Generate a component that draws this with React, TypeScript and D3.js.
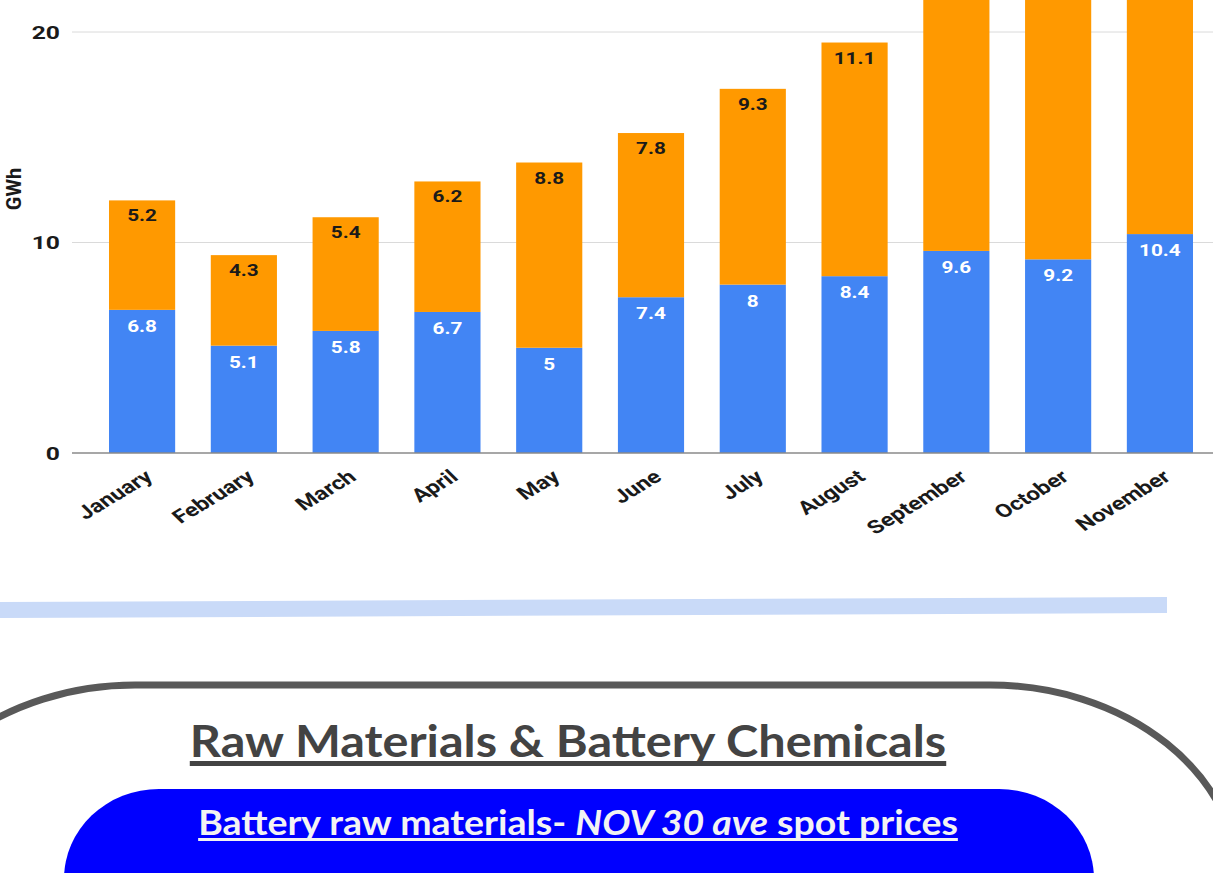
import React, { useEffect, useRef, useState } from "react";
import * as d3 from "d3";

const months = ["January", "February", "March", "April", "May", "June", "July", "August", "September", "October", "November"];
const blueValues = [6.8, 5.1, 5.8, 6.7, 5, 7.4, 8, 8.4, 9.6, 9.2, 10.4];
const orangeValues = [5.2, 4.3, 5.4, 6.2, 8.8, 7.8, 9.3, 11.1, 13.2, 14.5, 15.1];
const yTicks = [0, 10, 20];
const yAxisTitle = "GWh";
const sectionTitle = "Raw Materials & Battery Chemicals";
const subTitleParts = [
  { text: "Battery raw materials- ", italic: false },
  { text: "NOV 30 ave", italic: true },
  { text: " spot prices", italic: false },
];

const W = 1213;
const H = 873;

function Underlined({ x, y, size, color, children, thickness, offset, family, sx }: any) {
  const ref = useRef<SVGTextElement>(null);
  const [box, setBox] = useState<{ x: number; w: number } | null>(null);
  useEffect(() => {
    if (ref.current) {
      const b = ref.current.getBBox();
      setBox({ x: b.x, w: b.width });
    }
  }, []);
  return (
    <g transform={`translate(${x},${y}) scale(${sx},1)`}>
      <text ref={ref} x={0} y={0} textAnchor="middle" fontFamily={family} fontWeight="bold" fontSize={size} fill={color}>
        {children}
      </text>
      {box && <rect x={box.x} y={offset} width={box.w} height={thickness} fill={color} />}
    </g>
  );
}

export default function App() {
  const x = d3.scaleBand<string>().domain(months).range([109, 1193]).paddingInner(0.35).paddingOuter(0);
  const y = d3.scaleLinear().domain([0, 20]).range([453, 32]);
  const bw = x.bandwidth();
  const font = "Roboto, sans-serif";
  const ink = "#1a1a1a";

  return (
    <svg width={W} height={H} style={{ position: "absolute", left: 0, top: 0, display: "block", background: "#fff" }}>
      {/* gridlines and y ticks */}
      {yTicks.map((t) => (
        <g key={t}>
          {t !== 0 && <line x1={72} x2={W} y1={y(t)} y2={y(t)} stroke="#dadada" strokeWidth={1} />}
          <g transform={`translate(60,${y(t)}) scale(1.3,1)`}>
            <text x={0} y={0} dy="0.36em" textAnchor="end" fontFamily={font} fontWeight="bold" fontSize={19} fill={ink}>
              {t}
            </text>
          </g>
        </g>
      ))}
      <text transform={`translate(21,189) rotate(-90)`} textAnchor="middle" fontFamily={font} fontWeight="bold" fontSize={20} fill={ink}>
        {yAxisTitle}
      </text>

      {/* bars */}
      {months.map((m, i) => {
        const x0 = x(m)!;
        const b = blueValues[i];
        const o = orangeValues[i];
        const cx = x0 + bw / 2;
        const topLabelY = y(b + o) + 21;
        return (
          <g key={m}>
            <rect x={x0} y={y(b)} width={bw} height={y(0) - y(b)} fill="#4285f4" />
            <rect x={x0} y={y(b + o)} width={bw} height={y(b) - y(b + o)} fill="#ff9900" />
            <g transform={`translate(${cx},${y(b) + 22}) scale(1.22,1)`}>
              <text x={0} y={0} textAnchor="middle" fontFamily={font} fontWeight="bold" fontSize={17} fill="#ffffff">
                {b}
              </text>
            </g>
            {topLabelY > 14 && (
              <g transform={`translate(${cx},${topLabelY}) scale(1.22,1)`}>
                <text x={0} y={0} textAnchor="middle" fontFamily={font} fontWeight="bold" fontSize={17} fill={ink}>
                  {o}
                </text>
              </g>
            )}
            <g transform={`translate(${cx + 12},${479}) scale(1.3,1) rotate(-38)`}>
              <text x={0} y={0} textAnchor="end" fontFamily={font} fontWeight="bold" fontSize={18.5} fill={ink}>
                {m}
              </text>
            </g>
          </g>
        );
      })}
      <line x1={72} x2={W} y1={y(0)} y2={y(0)} stroke="#8a8a8a" strokeWidth={1.5} />

      {/* light blue divider */}
      <polygon points="0,602 1167,597 1167,613 0,618" fill="#c9daf8" />

      {/* section box */}
      <rect x={-115} y={685} width={1355} height={600} rx={250} ry={200} fill="#ffffff" stroke="#595959" strokeWidth={7} />

      <Underlined x={568} y={757} size={44} sx={1.105} color="#434343" thickness={5} offset={4} family="Lato, sans-serif">
        {sectionTitle}
      </Underlined>

      {/* blue box */}
      <rect x={64} y={789} width={1030} height={300} rx={95} ry={90} fill="#0000ff" />
      <Underlined x={578} y={835} size={35} sx={1.07} color="#f3f3f3" thickness={3} offset={3} family="Lato, sans-serif">
        {subTitleParts.map((p, i) => (
          <tspan key={i} fontStyle={p.italic ? "italic" : "normal"}>
            {p.text}
          </tspan>
        ))}
      </Underlined>
    </svg>
  );
}
